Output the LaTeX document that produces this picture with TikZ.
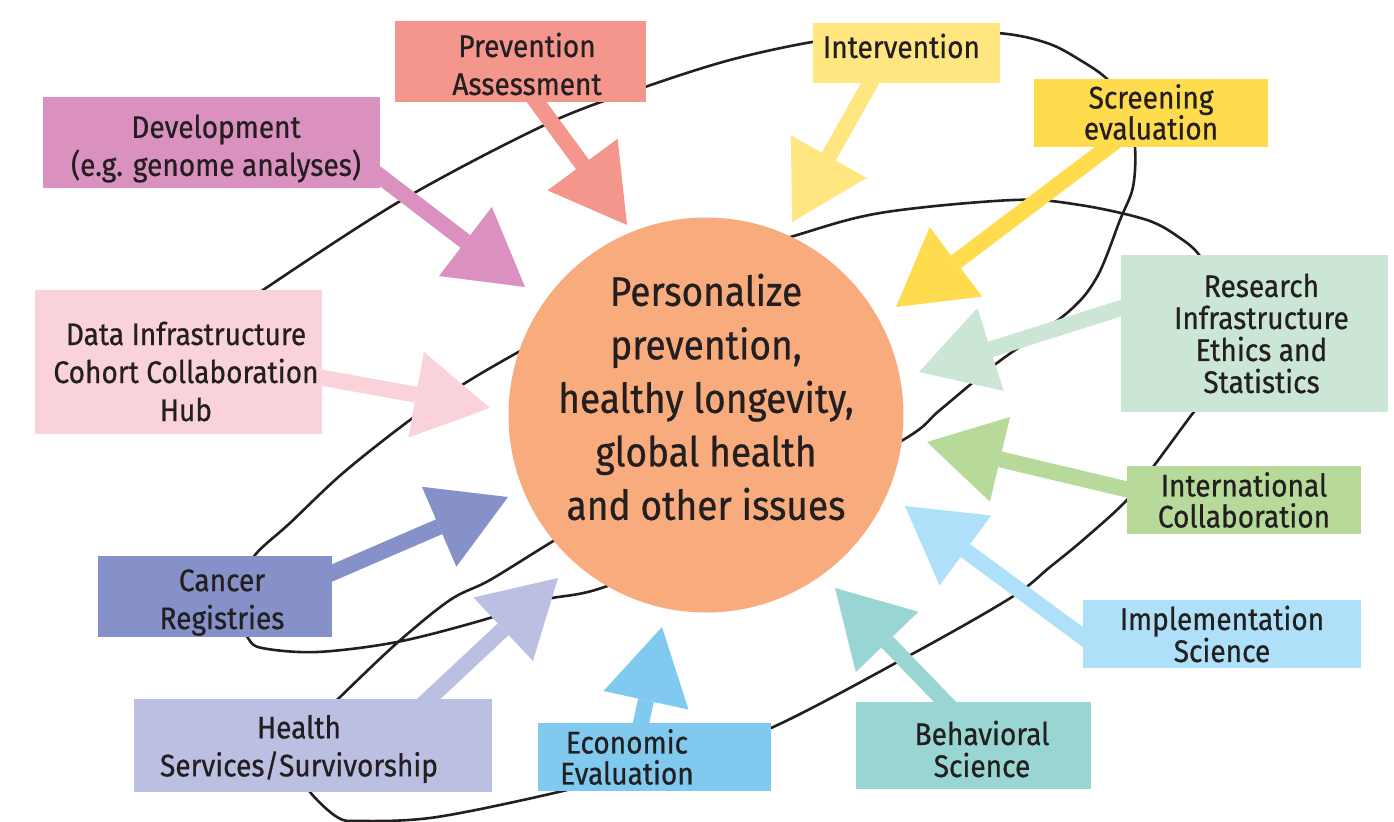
\documentclass[tikz,border=0pt]{standalone}
\usepackage{fontspec}
\setmainfont{Fira Sans}[FakeStretch=0.9, FakeBold=0.6]
\usetikzlibrary{arrows.meta,calc,fit}
\pgfdeclarelayer{curvelayer}
\pgfdeclarelayer{arrowlayer}
\pgfsetlayers{curvelayer,arrowlayer,main}
\definecolor{cText}{HTML}{231F20}
\definecolor{cHub}{HTML}{F8AC7D}
\definecolor{cPrev}{HTML}{F4968C}
\definecolor{cDev}{HTML}{DA91BF}
\definecolor{cInterv}{HTML}{FFE680}
\definecolor{cScreen}{HTML}{FFDC4E}
\definecolor{cRes}{HTML}{CCE6D6}
\definecolor{cIntl}{HTML}{B7DA9B}
\definecolor{cImpl}{HTML}{AEE1F9}
\definecolor{cBehav}{HTML}{99D5D2}
\definecolor{cEcon}{HTML}{80C9EF}
\definecolor{cHealth}{HTML}{BBBFE1}
\definecolor{cCancer}{HTML}{8591C8}
\definecolor{cData}{HTML}{FAD3DA}
\begin{document}
\begin{tikzpicture}[x=0.5pt,y=-0.5pt,
  box/.style={inner sep=0pt, draw=none},
  txtA/.style={align=center, text=cText, inner sep=0pt, font=\fontsize{15.6}{19}\selectfont},
  txtB/.style={align=center, text=cText, inner sep=0pt, font=\fontsize{15.6}{16}\selectfont},
  txtC/.style={align=center, text=cText, inner sep=0pt, font=\fontsize{15.6}{15.5}\selectfont},
  arr/.style={line width=8pt, -{Triangle[length=37.5pt,width=43.5pt,line width=0pt]}},
  orbit/.style={line width=1.3pt, draw=cText}]
\useasboundingbox (0,0) rectangle (1394,821);

% hub
\node[circle, fill=cHub, minimum size=197.5pt, inner sep=0pt] (hub) at (706,415) {};
\node[align=center, text=cText, inner sep=0pt, font=\fontsize{20.6}{26.75}\selectfont] (hubtext) at (706,397)
  {Personalize\\prevention,\\healthy longevity,\\global health\\and other issues};

% boxes
\node[box, fill=cPrev, fit={(395,21)(646,102)},
  label={[txtA, xshift=3.25pt, yshift=-1.25pt]center:Prevention\\Assessment}] (prev) {};
\node[box, fill=cDev, fit={(43,97)(380,188)},
  label={[txtA, xshift=2.25pt, yshift=-3pt]center:Development\\(e.g. genome analyses)}] (dev) {};
\node[box, fill=cInterv, fit={(813,23)(1000,83)},
  label={[txtA, xshift=-2.5pt, yshift=3.5pt]center:Intervention}] (interv) {};
\node[box, fill=cScreen, fit={(1034,79)(1268,147)},
  label={[txtC, yshift=0.5pt]center:Screening\\evaluation}] (screen) {};
\node[box, fill=cRes, fit={(1121,255)(1388,412)},
  label={[txtB, xshift=3.5pt]center:Research\\Infrastructure\\Ethics and\\Statistics}] (res) {};
\node[box, fill=cIntl, fit={(1127,466)(1361,534)},
  label={[txtC]center:International\\Collaboration}] (intl) {};
\node[box, fill=cImpl, fit={(1083,600)(1361,668)},
  label={[txtB]center:Implementation\\Science}] (impl) {};
\node[box, fill=cBehav, fit={(856,702)(1091,789)},
  label={[txtB, xshift=4.25pt, yshift=-1.75pt]center:Behavioral\\Science}] (behav) {};
\node[box, fill=cEcon, fit={(538,723)(771,791)},
  label={[txtC, xshift=-13.75pt]center:Economic\\Evaluation}] (econ) {};
\node[box, fill=cHealth, fit={(134,699)(492,792)},
  label={[txtA, xshift=-7pt, yshift=-1.75pt]center:Health\\Services/Survivorship}] (health) {};
\node[box, fill=cCancer, fit={(98,556)(332,637)},
  label={[txtA, xshift=3.5pt, yshift=-3pt]center:Cancer\\Registries}] (cancer) {};
\node[box, fill=cData, fit={(35,290)(322,434)},
  label={[txtA, xshift=3.75pt, yshift=-4.75pt]center:Data Infrastructure\\Cohort Collaboration\\Hub}] (data) {};

% arrow tips
\coordinate (tPrev) at (627,225);
\coordinate (tDev) at (525,287);
\coordinate (tInterv) at (792,222);
\coordinate (tScreen) at (896,307);
\coordinate (tRes) at (919,372);
\coordinate (tIntl) at (927,442);
\coordinate (tImpl) at (905,506);
\coordinate (tBehav) at (835,588);
\coordinate (tEcon) at (662,627);
\coordinate (tHealth) at (558,578);
\coordinate (tCancer) at (508,497);
\coordinate (tData) at (490,408);

\begin{pgfonlayer}{arrowlayer}
\draw[arr, cPrev] ($(prev.center)+(6.5,27.5)$) -- (tPrev);
\draw[arr, cDev] ($(dev.center)+(156.5,24.5)$) -- (tDev);
\draw[arr, cInterv] ($(interv.center)+(-29,17)$) -- (tInterv);
\draw[arr, cScreen] ($(screen.center)+(-31,25)$) -- (tScreen);
\draw[arr, cRes] ($(res.center)+(-119,-30)$) -- (tRes);
\draw[arr, cIntl] ($(intl.center)+(-104,-7.5)$) -- (tIntl);
\draw[arr, cImpl] ($(impl.center)+(-127,12)$) -- (tImpl);
\draw[arr, cBehav] ($(behav.center)+(-18,-32.7)$) -- (tBehav);
\draw[arr, cEcon] ($(econ.center)+(-16.7,-19.3)$) -- (tEcon);
\draw[arr, cHealth] ($(health.center)+(105,-36.5)$) -- (tHealth);
\draw[arr, cCancer] ($(cancer.center)+(103,-17.5)$) -- (tCancer);
\draw[arr, cData] ($(data.center)+(128.5,13)$) -- (tData);
\end{pgfonlayer}

\begin{pgfonlayer}{curvelayer}
\fill[white] (0,0) rectangle (1394,821);
\draw[orbit] plot[smooth, tension=0.55] coordinates {
 (225,318) (263,290) (402,200) (549,123) (645,87) (730,60) (812,42)
 (900,30) (998,33) (1047,43) (1080,60) (1108,80) (1128,110) (1135,147)
 (1133,187) (1120,220) (1097,277) (1067,313) (997,363) (940,410) (903,440)
 (760,518) (610,585) (543,600) (483,620) (397,642) (317,652) (262,648)
 (248,638) (238,615) (240,585) (255,555) (290,523) (343,473) (410,420)
 (462,385) (522,350) (650,280) (787,238) (880,213) (1013,200) (1080,205)
 (1147,220) (1180,238) (1200,256) (1220,292) (1226,340) (1212,390) (1193,413)
 (1153,467) (1125,502) (1083,540) (1050,567) (1012,597) (914,653) (771,728)
 (670,762) (567,790) (437,817) (360,821) (337,817) (310,792) (300,770)
 (302,745) (315,722) (338,699) (397,643) (450,600) (490,580) (555,540) (600,515)};
\end{pgfonlayer}
\end{tikzpicture}
\end{document}
